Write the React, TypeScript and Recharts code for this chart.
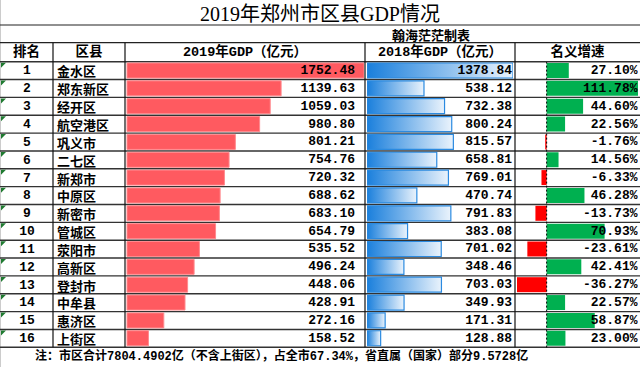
import React from 'react';
import { BarChart, Bar, XAxis, YAxis, LabelList, Cell, ReferenceLine } from 'recharts';

const ranks = [1, 2, 3, 4, 5, 6, 7, 8, 9, 10, 11, 12, 13, 14, 15, 16];
const districts = ['金水区', '郑东新区', '经开区', '航空港区', '巩义市', '二七区', '新郑市', '中原区', '新密市', '管城区', '荥阳市', '高新区', '登封市', '中牟县', '惠济区', '上街区'];
const gdp2019 = [1752.48, 1139.63, 1059.03, 980.8, 801.21, 754.76, 720.32, 688.62, 683.1, 654.79, 535.52, 496.24, 448.06, 428.91, 272.16, 158.52];
const gdp2018 = [1378.84, 538.12, 732.38, 800.24, 815.57, 658.81, 769.01, 470.74, 791.83, 383.08, 701.02, 348.46, 703.03, 349.93, 171.31, 128.88];
const growth = [27.1, 111.78, 44.6, 22.56, -1.76, 14.56, -6.33, 46.28, -13.73, 70.93, -23.61, 42.41, -36.27, 22.57, 58.87, 23.0];
const headers = ['排名', '区县', '2019年GDP（亿元）', '2018年GDP（亿元）', '名义增速'];

const data = districts.map((name, i) => ({
  rank: ranks[i],
  name,
  gdp2019: gdp2019[i],
  gdp2018: gdp2018[i],
  growth: growth[i],
}));

// table geometry
const TOP = 61.7;
const ROW_H = 17.85;
const BODY_H = ROW_H * districts.length;
const PAD = 6; // room so the first/last row texts are not clipped by the chart svg
const COLS = [0, 53, 125, 365, 515, 640];
const MONO = '"Liberation Mono", "DejaVu Sans Mono", "Noto Sans CJK SC", monospace';
const NUM_STYLE = { fontFamily: MONO, fontSize: 13, fontWeight: 700, fill: '#000' };

const NameTick = (props: any) => {
  const { y, payload, index } = props;
  return (
    <g>
      <text x={27} y={y} textAnchor="middle" dominantBaseline="central" style={NUM_STYLE}>
        {ranks[index]}
      </text>
      <text x={57} y={y} dominantBaseline="central"
        style={{ fontFamily: '"Noto Sans CJK SC"', fontSize: 13, fontWeight: 700, fill: '#000' }}>
        {payload.value}
      </text>
    </g>
  );
};

const numLabel = (xRight: number, fmt: (v: number) => string) => (p: any) => (
  <text x={xRight} y={p.y + p.height / 2} textAnchor="end" dominantBaseline="central" style={NUM_STYLE}>
    {fmt(Number(p.value))}
  </text>
);

const Grid = () => {
  const rowLines = [];
  for (let i = 0; i <= districts.length; i++) {
    const y = TOP + i * ROW_H;
    rowLines.push(<line key={'h' + i} x1={0} x2={640} y1={y} y2={y} stroke="#333" strokeWidth={1.4} />);
  }
  const tris = districts.map((_, i) => {
    const y = TOP + i * ROW_H + 1;
    return <polygon key={'t' + i} points={`1,${y} 6,${y} 1,${y + 5}`} fill="#1f7a30" />;
  });
  return (
    <svg width={640} height={367} style={{ position: 'absolute', left: 0, top: 0 }}>
      <rect x={0} y={0} width={640} height={367} fill="#fff" />
      <line x1={0.5} x2={0.5} y1={0} y2={367} stroke="#ccc" />
      <line x1={0} x2={640} y1={25} y2={25} stroke="#222" strokeWidth={1.2} />
      <line x1={0} x2={640} y1={42.7} y2={42.7} stroke="#222" strokeWidth={1.2} />
      {rowLines}
      {COLS.slice(1, 5).map((x) => (
        <line key={'v' + x} x1={x} x2={x} y1={42.7} y2={TOP + BODY_H} stroke="#111" strokeWidth={1.2} />
      ))}
      {tris}
      <text x={320} y={14} textAnchor="middle" dominantBaseline="central"
        style={{ fontFamily: '"Liberation Serif", "Noto Sans CJK SC"', fontSize: 20, fill: '#000' }}>
        2019年郑州市区县GDP情况
      </text>
      <text x={431} y={34} textAnchor="middle" dominantBaseline="central"
        style={{ fontFamily: '"Noto Sans CJK SC"', fontSize: 13, fontWeight: 700, fill: '#000' }}>
        翰海茫茫制表
      </text>
      {headers.map((h, i) => (
        <text key={h} x={(COLS[i] + COLS[i + 1]) / 2} y={52.5} textAnchor="middle" dominantBaseline="central"
          style={{ fontFamily: MONO, fontSize: 13.5, fontWeight: 700, fill: '#000' }}>
          {h}
        </text>
      ))}
      <text x={35} y={357} dominantBaseline="central"
        style={{ fontFamily: MONO, fontSize: 12, fontWeight: 700, fill: '#000' }}>
        注：市区合计7804.4902亿（不含上街区），占全市67.34%，省直属（国家）部分9.5728亿
      </text>
    </svg>
  );
};

export default function App() {
  const max19 = Math.max(...gdp2019);
  const max18 = Math.max(...gdp2018);
  const gMin = Math.min(...growth);
  const gMax = Math.max(...growth);
  const margin = { top: PAD, right: 0, bottom: PAD, left: 0 };
  const h = BODY_H + 2 * PAD;
  return (
    <div style={{ position: 'fixed', left: 0, top: 0, width: 640, height: 367, background: '#fff', overflow: 'hidden' }}>
      <Grid />
      <div style={{ position: 'absolute', left: 0, top: TOP - PAD }}>
        <BarChart width={364} height={h} data={data} layout="vertical" margin={margin}>
          <XAxis type="number" domain={[0, max19]} hide />
          <YAxis type="category" dataKey="name" width={127} axisLine={false} tickLine={false} tick={<NameTick />} interval={0} />
          <Bar dataKey="gdp2019" fill="#ff5a60" stroke="#ff8a8e" barSize={15} isAnimationActive={false}>
            <LabelList dataKey="gdp2019" content={numLabel(355, (v) => v.toFixed(2))} />
          </Bar>
        </BarChart>
      </div>
      <div style={{ position: 'absolute', left: 367, top: TOP - PAD }}>
        <BarChart width={146} height={h} data={data} layout="vertical" margin={margin}>
          <defs>
            <linearGradient id="blueGrad" x1="0" y1="0" x2="1" y2="0">
              <stop offset="0%" stopColor="#1a7fdc" />
              <stop offset="100%" stopColor="#eaf3fc" />
            </linearGradient>
          </defs>
          <XAxis type="number" domain={[0, max18]} hide />
          <YAxis type="category" dataKey="name" hide />
          <Bar dataKey="gdp2018" fill="url(#blueGrad)" stroke="#2b8ae0" strokeWidth={1.2} barSize={15} isAnimationActive={false}>
            <LabelList dataKey="gdp2018" content={numLabel(145, (v) => v.toFixed(2))} />
          </Bar>
        </BarChart>
      </div>
      <div style={{ position: 'absolute', left: 516.5, top: TOP - PAD }}>
        <BarChart width={121} height={h} data={data} layout="vertical" margin={margin}>
          <XAxis type="number" domain={[gMin, gMax]} hide />
          <YAxis type="category" dataKey="name" hide />
          <Bar dataKey="growth" barSize={15} isAnimationActive={false}>
            {growth.map((g, i) => (
              <Cell key={i} fill={g >= 0 ? '#00b050' : '#ff0000'} />
            ))}
            <LabelList dataKey="growth" content={numLabel(120.5, (v) => v.toFixed(2) + '%')} />
          </Bar>
          <ReferenceLine x={0} stroke="#000" strokeDasharray="2 2" />
        </BarChart>
      </div>
    </div>
  );
}
